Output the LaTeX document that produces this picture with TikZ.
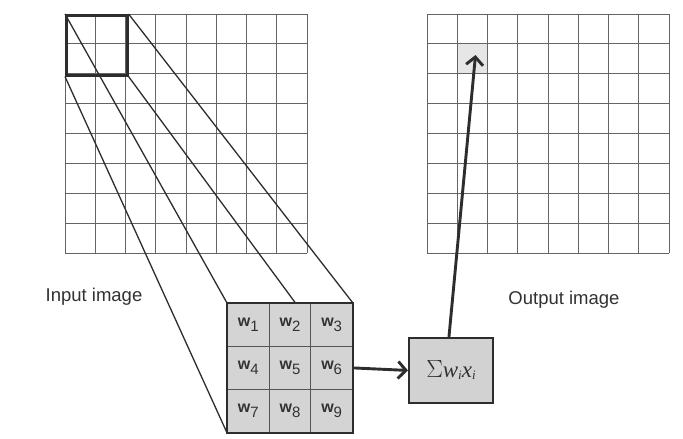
\documentclass[tikz,border=0pt]{standalone}
\usepackage{fontspec}
\setmainfont{Liberation Serif}
\setsansfont{Liberation Sans}
\usetikzlibrary{arrows.meta,positioning,calc}
\definecolor{gridcol}{RGB}{100,100,100}
\definecolor{linecol}{RGB}{45,45,45}
\definecolor{kernfill}{RGB}{212,212,212}
\definecolor{kernline}{RGB}{85,85,85}
\definecolor{sumfill}{RGB}{210,210,210}
\definecolor{cellfill}{RGB}{230,230,230}
\definecolor{textcol}{RGB}{50,50,50}

\begin{document}
\begin{tikzpicture}[
  x=1pt, y=-1pt,
  font=\sffamily,
  gridline/.style={draw=gridcol, line width=1pt},
  window/.style={draw=linecol, line width=2.6pt, inner sep=0pt},
  proj/.style={draw=linecol, line width=1.3pt},
  wcell/.style={
    draw=kernline,
    fill=kernfill,
    line width=0.8pt,
    minimum width=41.7pt,
    minimum height=43pt,
    inner sep=0pt,
    anchor=north west,
    text=textcol,
    font=\sffamily\bfseries\fontsize{16}{16}\selectfont
  },
  sumbox/.style={
    draw=linecol,
    fill=sumfill,
    line width=1.9pt,
    minimum width=84pt,
    minimum height=65pt,
    inner sep=0pt,
    anchor=north west,
    text=textcol,
    font=\rmfamily\fontsize{23}{23}\selectfont
  },
  flow/.style={-{Straight Barb[length=8pt,width=17pt]}, draw=linecol, line width=2.9pt},
  lbl/.style={text=textcol, font=\sffamily\fontsize{18.5}{18.5}\selectfont}
]
\useasboundingbox (0,0) rectangle (683,439);

% ========== Input image (8 x 8) ==========
\coordinate (in-nw) at (65,14);
\coordinate (in-se) at (307,253);
\foreach \i in {0,...,8} {
  \draw[gridline] ($(in-nw)!\i/8!(in-nw -| in-se)$) -- ($(in-nw |- in-se)!\i/8!(in-se)$);
  \draw[gridline] ($(in-nw)!\i/8!(in-nw |- in-se)$) -- ($(in-nw -| in-se)!\i/8!(in-se)$);
}
\node[window, anchor=north west, minimum width=61pt, minimum height=60pt] (win) at (in-nw) {};

% ========== Output image (8 x 8) ==========
\coordinate (out-nw) at (427,14);
\coordinate (out-se) at (669,253);
\node[fill=cellfill, inner sep=0pt, anchor=north west, minimum width=30.2pt, minimum height=29.9pt]
  (pix) at ($(out-nw)+(30.2,29.9)$) {};
\foreach \i in {0,...,8} {
  \draw[gridline] ($(out-nw)!\i/8!(out-nw -| out-se)$) -- ($(out-nw |- out-se)!\i/8!(out-se)$);
  \draw[gridline] ($(out-nw)!\i/8!(out-nw |- out-se)$) -- ($(out-nw -| out-se)!\i/8!(out-se)$);
}

% ========== Kernel (3 x 3 weights) ==========
\foreach \r in {0,1,2} {
  \foreach \c in {1,2,3} {
    \pgfmathtruncatemacro\n{3*\r+\c}
    \node[wcell] (w\n) at (227+41.7*\c-41.7,303+43*\r)
      {w\raisebox{-5pt}{\mdseries\fontsize{15}{15}\selectfont\n}};
  }
}
\draw[draw=linecol, line width=1.5pt] (w1.north west) rectangle (w9.south east);

% projection of the window onto the kernel
\draw[proj] (win.north west) -- (w1.north west);
\draw[proj] (win.north east) -- (w3.north east);
\draw[proj] (win.south east) -- ($(w2.north west)!0.63!(w2.north east)$);
\draw[proj] (win.south west) -- (w7.south west);

% ========== Weighted sum ==========
\node[sumbox] (sum) at (408,337) {$\Sigma$\textit{w}\raisebox{-2pt}{\fontsize{13}{13}\selectfont\textit{i}}\textit{x}\raisebox{-2pt}{\fontsize{13}{13}\selectfont\textit{i}}};

\draw[flow] (w6.east) -- (sum.west);
\draw[flow] ($(sum.north)+(-2,0)$) -- ($(pix.center)+(3,-4)$);

% ========== Labels ==========
\node[lbl] (in-lbl) at (94,297) {Input image};
\node[lbl] (out-lbl) at (564,300) {Output image};

\end{tikzpicture}
\end{document}
